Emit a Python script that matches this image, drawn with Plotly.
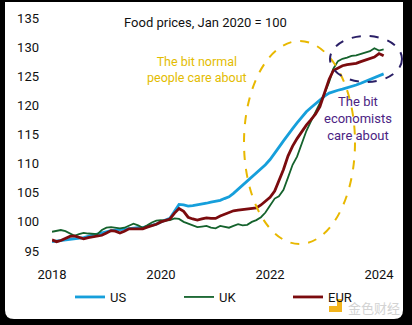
import plotly.graph_objects as go
import pandas as pd

# ---------------- data ----------------
months = pd.date_range("2018-01-01", "2024-02-01", freq="MS")

us = [
    96.6, 96.7, 96.8, 96.9, 97.0, 97.1, 97.1, 97.3, 97.5, 97.7, 97.9, 98.1,   # 2018
    98.4, 98.5, 98.6, 98.7, 98.7, 98.8, 98.9, 99.0, 99.0, 99.2, 99.4, 99.6,   # 2019
    100.0, 100.3, 100.6, 101.8, 103.0, 102.9, 102.7, 102.8, 102.9, 103.0, 103.2, 103.4,  # 2020
    103.5, 103.7, 104.0, 104.3, 104.9, 105.6, 106.3, 107.0, 107.6, 108.3, 109.0, 109.8,  # 2021
    110.7, 111.7, 112.8, 113.9, 115.0, 116.0, 117.0, 118.0, 118.9, 119.6, 120.3, 121.0,  # 2022
    121.6, 122.1, 122.4, 122.6, 122.8, 123.0, 123.2, 123.5, 123.8, 124.1, 124.4, 124.7,  # 2023
    125.1, 125.4,                                                                        # 2024
]

uk = [
    98.3, 98.4, 98.6, 98.4, 98.0, 97.6, 97.9, 98.1, 98.0, 97.9, 97.9, 98.6,
    99.0, 99.1, 99.0, 98.9, 99.0, 99.3, 99.7, 99.4, 99.0, 99.4, 99.9, 100.2,
    100.3, 100.2, 100.3, 100.6, 100.5, 100.0, 99.7, 99.4, 99.1, 99.2, 99.3, 99.0,
    98.9, 99.3, 99.1, 99.0, 99.3, 99.6, 99.4, 99.5, 100.0, 100.3, 100.8, 101.6,
    102.8, 104.0, 104.4, 105.5, 107.6, 109.8, 111.2, 113.5, 115.6, 117.2, 118.8, 120.3,
    122.0, 124.0, 126.3, 127.6, 128.0, 128.2, 128.5, 128.6, 128.8, 129.0, 129.3, 129.8,
    129.4, 129.6,
]

eur = [
    96.9, 96.6, 96.8, 97.1, 97.5, 97.6, 97.3, 97.1, 97.3, 97.4, 97.5, 97.7,
    98.1, 98.5, 98.4, 98.1, 98.4, 98.8, 98.8, 98.8, 98.8, 99.1, 99.3, 99.6,
    100.0, 100.2, 100.5, 101.5, 102.3, 101.8, 100.8, 100.5, 100.3, 100.5, 100.7, 100.6,
    100.6, 101.0, 101.3, 101.7, 101.9, 102.0, 102.1, 102.2, 102.3, 102.4, 102.9, 103.6,
    104.2, 105.3, 107.0, 109.0, 111.3, 113.0, 114.3, 115.5, 116.6, 117.5, 118.5, 119.8,
    122.3, 124.5, 126.0, 126.4, 126.8, 127.0, 127.1, 127.2, 127.5, 127.8, 128.0, 128.3,
    128.9, 128.5,
]

tick_vals = ["2018-01-01", "2020-01-01", "2022-01-01", "2024-01-01"]
tick_text = ["2018", "2020", "2022", "2024"]
y_ticks = [95, 100, 105, 110, 115, 120, 125, 130, 135]

# ---------------- layout helpers ----------------
W, H = 412, 325
L, R, T, B = 52, 392, 18, 251


def px(x):
    return (x - L) / (R - L)


def py(y):
    return (B - y) / (B - T)


FONT = "Roboto, 'Noto Sans', sans-serif"

fig = go.Figure()
fig.add_trace(go.Scatter(x=months, y=us, name="US", mode="lines",
                         line=dict(color="#169FDB", width=2.8)))
fig.add_trace(go.Scatter(x=months, y=uk, name="UK", mode="lines",
                         line=dict(color="#14622C", width=1.8)))
fig.add_trace(go.Scatter(x=months, y=eur, name="EUR", mode="lines",
                         line=dict(color="#7B0B0E", width=2.8)))

# white card with rounded bottom corners on black background
x0, x1, y0, y1, r = 5, 403, 2, 319, 9
path = (f"M {px(x0)} {py(y0)} L {px(x1)} {py(y0)} L {px(x1)} {py(y1 - r)} "
        f"Q {px(x1)} {py(y1)} {px(x1 - r)} {py(y1)} L {px(x0 + r)} {py(y1)} "
        f"Q {px(x0)} {py(y1)} {px(x0)} {py(y1 - r)} Z")
shapes = [
    dict(type="path", xref="paper", yref="paper", path=path,
         fillcolor="white", line=dict(width=0), layer="below"),
    dict(type="circle", xref="paper", yref="paper",
         x0=px(244), x1=px(355), y0=py(244), y1=py(41),
         line=dict(color="#E8B800", width=2, dash="dash")),
    dict(type="circle", xref="paper", yref="paper",
         x0=px(330), x1=px(402), y0=py(82), y1=py(36),
         line=dict(color="#2A1F66", width=2, dash="dash")),
    # watermark logo
    dict(type="path", xref="paper", yref="paper",
         path=(f"M {px(337)} {py(299)} L {px(342)} {py(299)} L {px(342)} {py(312)} "
               f"L {px(329)} {py(312)} L {px(329)} {py(306)} L {px(337)} {py(306)} Z"),
         fillcolor="#F2B41C", line=dict(width=0)),
]

annotations = [
    dict(text="Food prices, Jan 2020 = 100", x=px(205), y=py(23),
         font=dict(size=13, color="#111111")),
    dict(text="The bit normal<br>people care about", x=px(197), y=py(69),
         font=dict(size=12.5, color="#E3BC00")),
    dict(text="The bit<br>economists<br>care about", x=px(358), y=py(118),
         font=dict(size=13, color="#4B2383")),
    dict(text="金色财经", x=px(374), y=py(307),
         font=dict(size=13, color="#D3D3D3", family="Noto Sans CJK SC")),
]
for a in annotations:
    a.update(xref="paper", yref="paper", showarrow=False,
             xanchor="center", yanchor="middle")
    a["font"].setdefault("family", FONT)

fig.update_layout(
    width=W, height=H,
    margin=dict(l=L, r=W - R, t=T, b=H - B, pad=0),
    paper_bgcolor="black",
    plot_bgcolor="rgba(0,0,0,0)",
    font=dict(family=FONT, size=13, color="#111111"),
    shapes=shapes,
    annotations=annotations,
    showlegend=True,
    legend=dict(orientation="h", x=px(70), y=py(297), xanchor="left",
                yanchor="middle", xref="paper", yref="paper",
                entrywidth=64, entrywidthmode="pixels",
                font=dict(size=13, color="#111111"),
                bgcolor="rgba(0,0,0,0)"),
    xaxis=dict(range=["2018-01-01", "2024-03-28"], tickvals=tick_vals,
               ticktext=tick_text, showgrid=False, zeroline=False,
               showline=False, ticks="", ticklabelstandoff=14,
               tickfont=dict(size=13, color="#111111")),
    yaxis=dict(range=[95, 135], tickvals=y_ticks, showgrid=False,
               zeroline=False, showline=False, ticks="",
               ticklabelstandoff=12,
               tickfont=dict(size=13, color="#111111")),
)

fig.write_html("out.html")
